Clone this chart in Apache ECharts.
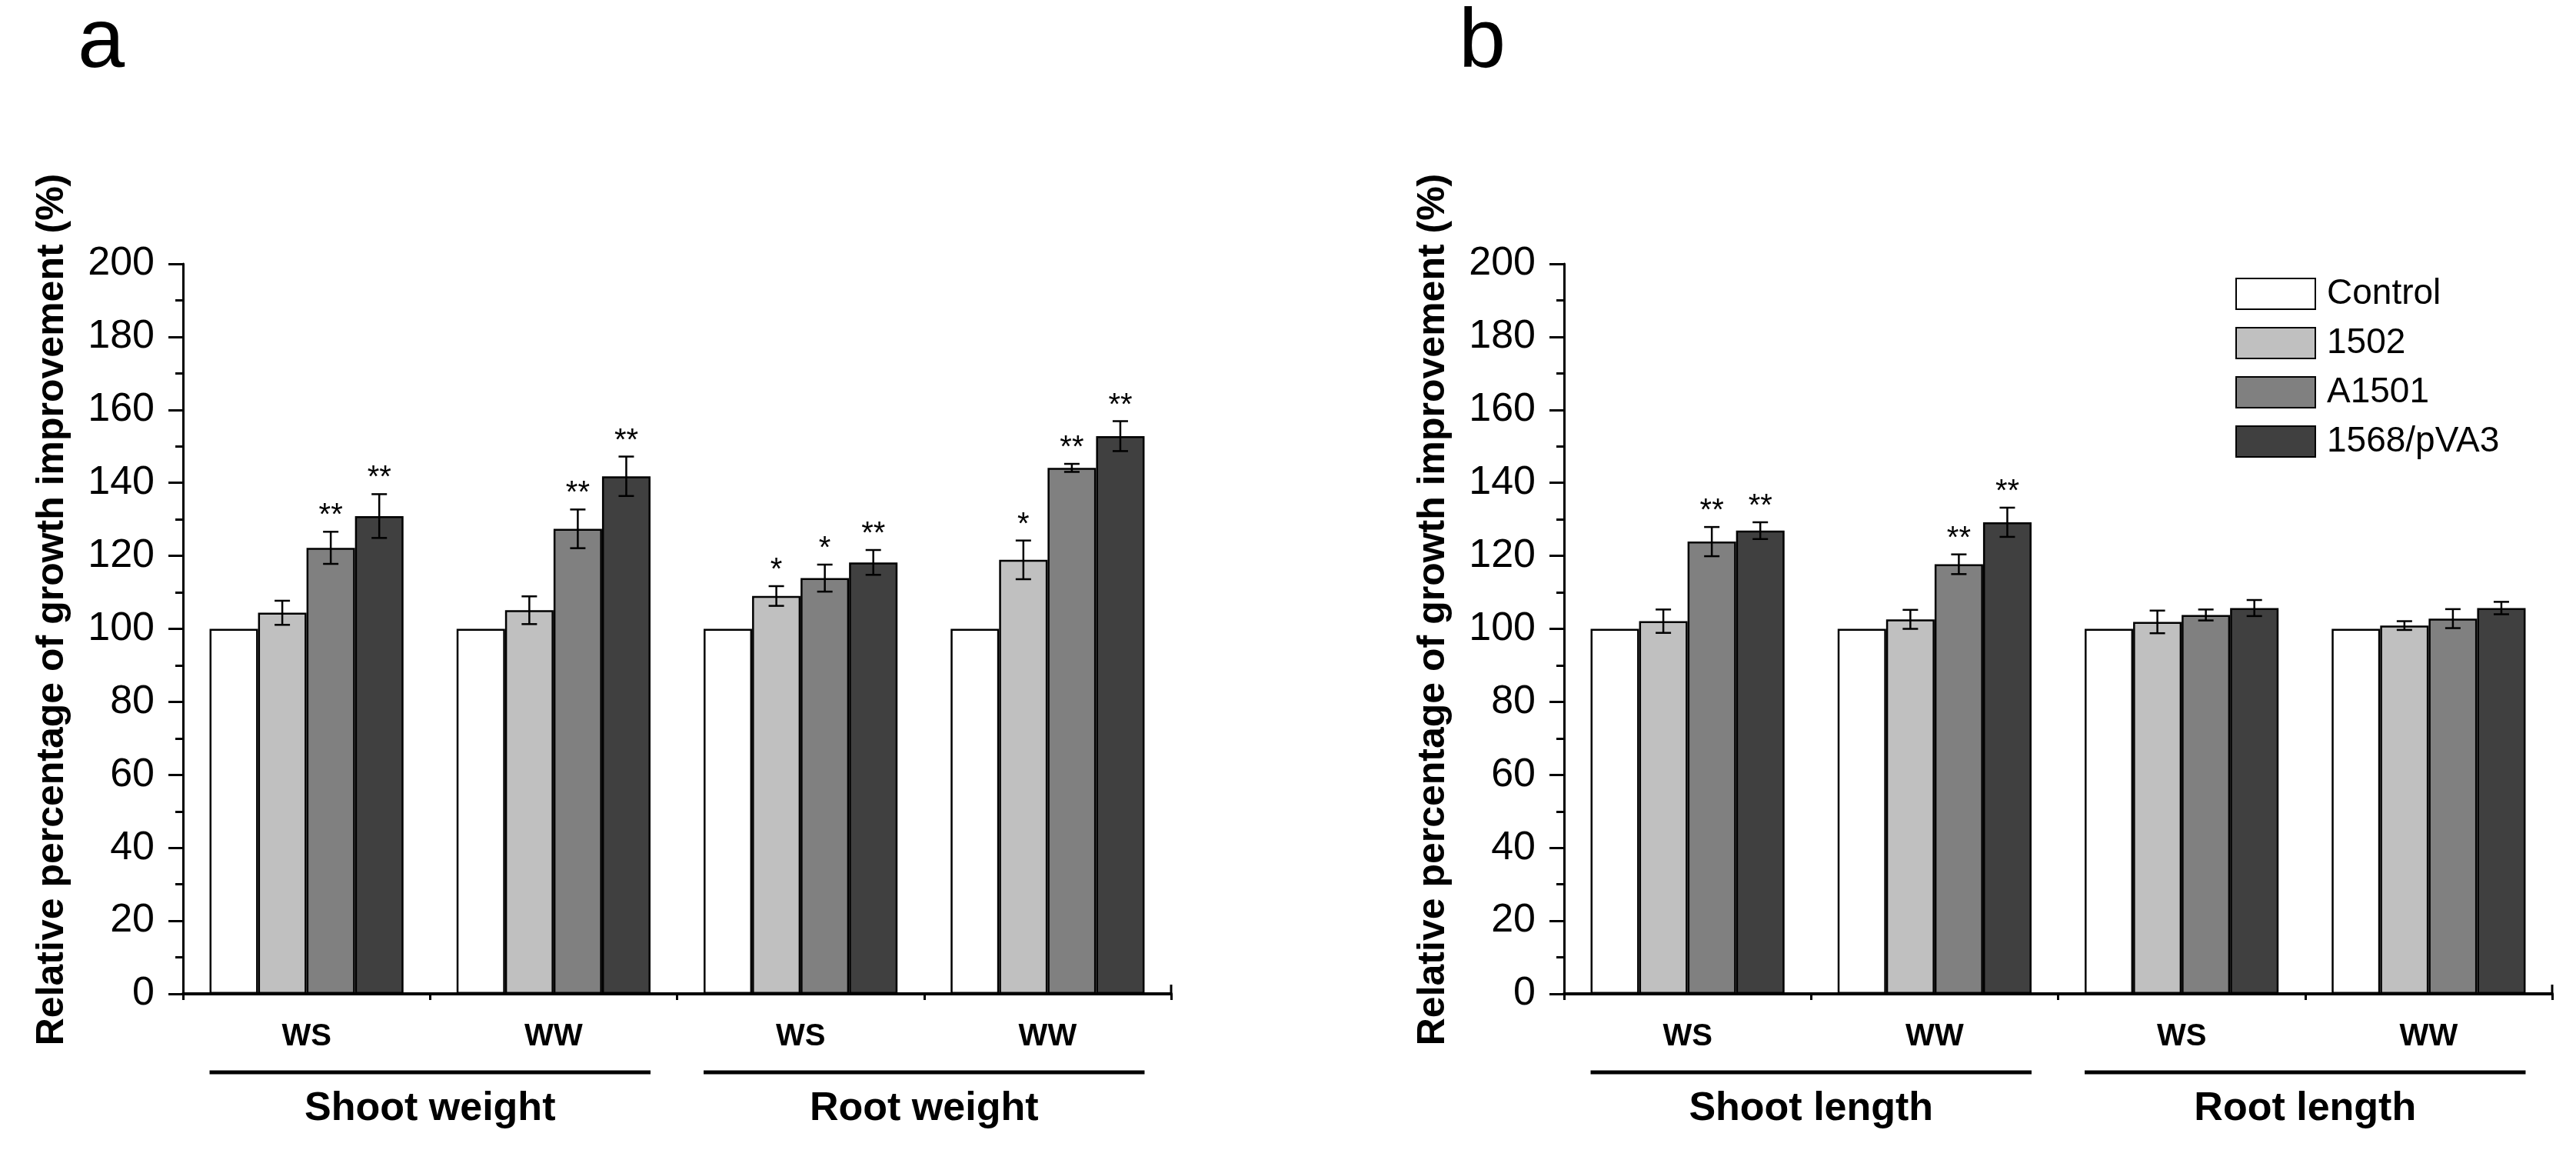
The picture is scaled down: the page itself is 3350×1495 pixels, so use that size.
<!DOCTYPE html>
<html>
<head>
<meta charset="utf-8">
<script src="https://cdn.jsdelivr.net/npm/echarts@6/dist/echarts.min.js"></script>
<style>
html,body{margin:0;padding:0;background:#fff;}
#main{width:3350px;height:1495px;}
</style>
</head>
<body>
<div id="main"></div>
<script>
// ---------------- data ----------------
const seriesNames = ['Control', '1502', 'A1501', '1568/pVA3'];
const catKeys = ['g0', 'g1', 'g2', 'g3'];
const catLabels = ['WS', 'WW', 'WS', 'WW'];
const groupLabelsA = ['Shoot weight', 'Root weight'];
const groupLabelsB = ['Shoot length', 'Root length'];
const yTicks = [0, 200, 20];

// panel a: means
const aControl = [100, 100, 100, 100];
const a1502 = [104.4, 105.1, 109.0, 118.9];
const aA1501 = [122.2, 127.4, 113.9, 144.1];
const a1568 = [130.9, 141.8, 118.2, 152.8];
// panel a: errors
const a1502Err = [3.3, 3.8, 2.7, 5.3];
const aA1501Err = [4.4, 5.3, 3.7, 1.1];
const a1568Err = [6.0, 5.4, 3.4, 4.1];
// panel a: significance
const a1502Sig = ['', '', '*', '*'];
const aA1501Sig = ['**', '**', '*', '**'];
const a1568Sig = ['**', '**', '**', '**'];

// panel b: means
const bControl = [100, 100, 100, 100];
const b1502 = [102.1, 102.6, 101.9, 100.9];
const bA1501 = [123.9, 117.7, 103.8, 102.8];
const b1568 = [126.9, 129.2, 105.7, 105.7];
// panel b: errors
const b1502Err = [3.2, 2.6, 3.1, 1.2];
const bA1501Err = [4.0, 2.7, 1.5, 2.6];
const b1568Err = [2.3, 4.0, 2.2, 1.7];
// panel b: significance
const b1502Sig = ['', '', '', ''];
const bA1501Sig = ['**', '**', '', ''];
const b1568Sig = ['**', '**', '', ''];

// ---------------- style ----------------
const FONT = "'Liberation Sans', Arial, sans-serif";
const colors = ['#ffffff', '#c0c0c0', '#808080', '#404040'];
const GAP = 0.215;

const panels = [
  { means: [aControl, a1502, aA1501, a1568], errs: [null, a1502Err, aA1501Err, a1568Err],
    sigs: [null, a1502Sig, aA1501Sig, a1568Sig], groups: groupLabelsA, left: 238 },
  { means: [bControl, b1502, bA1501, b1568], errs: [null, b1502Err, bA1501Err, b1568Err],
    sigs: [null, b1502Sig, bA1501Sig, b1568Sig], groups: groupLabelsB, left: 2034 }
];

const chart = echarts.init(document.getElementById('main'), null, { renderer: 'canvas' });

const grids = [], xAxes = [], yAxes = [], series = [];
panels.forEach((p, pi) => {
  grids.push({ left: p.left, top: 343, width: 1285, height: 949, containLabel: false, outerBoundsMode: 'none' });
  xAxes.push({
    gridIndex: pi, type: 'category', data: catKeys, position: 'bottom',
    axisLine: { show: true, lineStyle: { color: '#000', width: 4 } },
    axisTick: { show: true, alignWithLabel: false, length: 8, lineStyle: { color: '#000', width: 3 } },
    axisLabel: { margin: 36, fontFamily: FONT, fontSize: 40, fontWeight: 'bold', color: '#000',
      formatter: (v, i) => catLabels[i] },
    splitLine: { show: false }
  });
  xAxes.push({
    gridIndex: pi, type: 'category', data: p.groups, position: 'bottom',
    axisLine: { show: false }, axisTick: { show: false }, splitLine: { show: false },
    axisLabel: { margin: 124, fontFamily: FONT, fontSize: 52, fontWeight: 'bold', color: '#000' }
  });
  yAxes.push({
    gridIndex: pi, type: 'value', min: yTicks[0], max: yTicks[1], interval: yTicks[2],
    name: 'Relative percentage of growth improvement (%)', nameLocation: 'middle', nameGap: 145,
    nameTextStyle: { fontFamily: FONT, fontSize: 50, fontWeight: 'bold', color: '#000', padding: [0, 0, 0, 50] },
    axisLine: { show: true, lineStyle: { color: '#000', width: 3 } },
    axisTick: { show: true, length: 19, lineStyle: { color: '#000', width: 3 } },
    minorTick: { show: true, splitNumber: 2, length: 10, lineStyle: { color: '#000', width: 3 } },
    axisLabel: { margin: 37, fontFamily: FONT, fontSize: 52, color: '#000' },
    splitLine: { show: false }
  });
  p.means.forEach((arr, k) => {
    series.push({
      name: seriesNames[k], type: 'bar', xAxisIndex: pi * 2, yAxisIndex: pi,
      data: arr, barGap: '0%', barCategoryGap: (GAP * 100) + '%',
      itemStyle: { color: colors[k], borderColor: '#000', borderWidth: 2.5 },
      z: 2
    });
  });
  [1, 2, 3].forEach(k => {
    const errs = p.errs[k], sigs = p.sigs[k];
    series.push({
      name: 'err-' + pi + '-' + k, type: 'custom', xAxisIndex: pi * 2, yAxisIndex: pi, z: 5,
      data: p.means[k].map((m, i) => [i, m, errs[i]]),
      renderItem: (params, api) => {
        const cat = api.value(0), mean = api.value(1), err = api.value(2);
        const band = api.size([1, 0])[0];
        const bw = band * (1 - GAP) / 4;
        const top = api.coord([cat, mean + err]);
        const bot = api.coord([cat, mean - err]);
        const x = top[0] + (k - 1.5) * bw;
        const cap = 10;
        const ls = { stroke: '#000', lineWidth: 2.5 };
        const children = [
          { type: 'line', shape: { x1: x, y1: top[1], x2: x, y2: bot[1] }, style: ls },
          { type: 'line', shape: { x1: x - cap, y1: top[1], x2: x + cap, y2: top[1] }, style: ls },
          { type: 'line', shape: { x1: x - cap, y1: bot[1], x2: x + cap, y2: bot[1] }, style: ls }
        ];
        const s = sigs[params.dataIndex];
        if (s) {
          children.push({ type: 'text', style: { text: s, x: x, y: top[1] - 20, font: '40px ' + FONT,
            fill: '#000', align: 'center', verticalAlign: 'middle' } });
        }
        return { type: 'group', children };
      }
    });
  });
});

const option = {
  animation: false,
  backgroundColor: '#ffffff',
  legend: {
    data: seriesNames, orient: 'vertical', left: 2907, top: 359,
    itemWidth: 103, itemHeight: 40, itemGap: 18, icon: 'rect', padding: 0,
    textStyle: { fontFamily: FONT, fontSize: 46, color: '#000', lineHeight: 40, padding: [0, 0, 0, 10] },
    selectedMode: false
  },
  grid: grids, xAxis: xAxes, yAxis: yAxes, series: series
};
chart.setOption(option);

// annotations computed from the axes
const graphics = [];
['a', 'b'].forEach((t, pi) => {
  graphics.push({ type: 'text', x: panels[pi].left - 137, y: 57,
    style: { text: t, font: '110px ' + FONT, fill: '#000', align: 'left', verticalAlign: 'middle' } });
  const f = { xAxisIndex: pi * 2, yAxisIndex: pi };
  const c0 = chart.convertToPixel(f, [0, 0]);
  const c1 = chart.convertToPixel(f, [1, 0]);
  const c3 = chart.convertToPixel(f, [3, 0]);
  const band = c1[0] - c0[0];
  const bw = band * (1 - GAP) / 4;
  const base = c0[1];
  const yLine = base + 102;
  [[0, 1], [2, 3]].forEach(([s, e]) => {
    const xs = chart.convertToPixel(f, [s, 0])[0] - 2 * bw;
    const xe = chart.convertToPixel(f, [e, 0])[0] + 2 * bw;
    graphics.push({ type: 'line', shape: { x1: xs, y1: yLine, x2: xe, y2: yLine },
      style: { stroke: '#000', lineWidth: 5 } });
  });
  const xEnd = c3[0] + band / 2;
  graphics.push({ type: 'line', shape: { x1: xEnd, y1: base, x2: xEnd, y2: base - 12 },
    style: { stroke: '#000', lineWidth: 3 } });
});
chart.setOption({ graphic: graphics });
</script>
</body>
</html>
